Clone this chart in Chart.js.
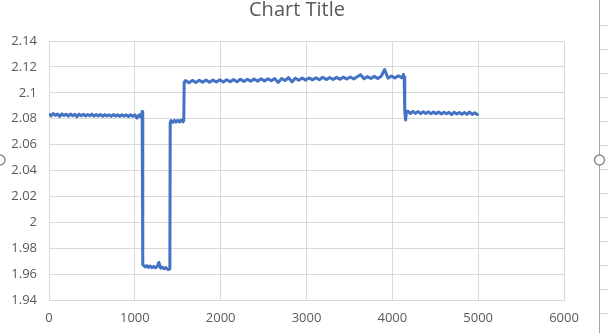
<!DOCTYPE html>
<html>
<head>
<meta charset="utf-8">
<title>Chart Title</title>
<script src="https://cdn.jsdelivr.net/npm/chart.js@4.4.1/dist/chart.umd.min.js"></script>
<style>
  html, body { margin: 0; padding: 0; background: #ffffff; }
  #wrap { position: relative; width: 608px; height: 333px; }
</style>
</head>
<body>
<div id="wrap"><canvas id="chart" width="608" height="333"></canvas></div>
<script>
// Readings, segment by segment (x = sample, y = value)
const firstLevelX = [0, 25, 50, 75, 100, 125, 150, 175, 200, 225, 250, 275, 300, 325, 350, 375, 400, 425, 450, 475,
    500, 525, 550, 575, 600, 625, 650, 675, 700, 725, 750, 775, 800, 825, 850, 875, 900, 925, 950, 975,
    1000, 1025, 1050, 1075, 1085, 1090, 1095];
const firstLevelY = [2.0838, 2.0822, 2.0840, 2.0825, 2.0836, 2.0818, 2.0837, 2.0824, 2.0835, 2.0820, 2.0836, 2.0823,
    2.0834, 2.0815, 2.0835, 2.0822, 2.0834, 2.0821, 2.0833, 2.0822, 2.0835, 2.0820, 2.0832, 2.0821,
    2.0833, 2.0819, 2.0832, 2.0820, 2.0831, 2.0818, 2.0832, 2.0820, 2.0830, 2.0818, 2.0831, 2.0819,
    2.0830, 2.0817, 2.0831, 2.0818, 2.0829, 2.0805, 2.0830, 2.0812, 2.0856, 2.0832, 1.9672];

const dipX = [1100, 1120, 1140, 1160, 1180, 1200, 1220, 1240, 1260, 1280, 1300, 1320, 1340, 1360, 1380, 1395, 1408];
const dipY = [1.9668, 1.9655, 1.9666, 1.9652, 1.9662, 1.9650, 1.9660, 1.9648, 1.9658, 1.9690, 1.9646, 1.9654,
    1.9641, 1.9650, 1.9638, 1.9636, 1.9640];

const stepX = [1412, 1420, 1440, 1460, 1480, 1500, 1520, 1540, 1560, 1570];
const stepY = [2.0770, 2.0786, 2.0772, 2.0787, 2.0774, 2.0788, 2.0775, 2.0790, 2.0776, 2.0784];

const highLevelX = [1575, 1590, 1630, 1670, 1710, 1750, 1790, 1830, 1870, 1910, 1950, 1990, 2030, 2070, 2110, 2150,
    2190, 2230, 2270, 2310, 2350, 2390, 2430, 2470, 2510, 2550, 2590, 2630, 2670, 2710, 2750,
    2790, 2830, 2870, 2910, 2950, 2990, 3030, 3070, 3110, 3150, 3190, 3230, 3270, 3310, 3350,
    3390, 3430, 3470, 3510, 3550, 3590, 3630, 3670, 3710, 3750, 3790, 3830, 3870, 3910, 3950,
    3990, 4030, 4070, 4110, 4130, 4138];
const highLevelY = [2.1080, 2.1095, 2.1078, 2.1096, 2.1080, 2.1097, 2.1081, 2.1098, 2.1082, 2.1099, 2.1083, 2.1100,
    2.1084, 2.1101, 2.1085, 2.1103, 2.1086, 2.1104, 2.1088, 2.1105, 2.1089, 2.1106, 2.1090, 2.1108,
    2.1092, 2.1109, 2.1093, 2.1110, 2.1080, 2.1111, 2.1095, 2.1118, 2.1084, 2.1113, 2.1097, 2.1114,
    2.1098, 2.1115, 2.1100, 2.1116, 2.1101, 2.1120, 2.1102, 2.1118, 2.1103, 2.1119, 2.1104, 2.1121,
    2.1106, 2.1122, 2.1107, 2.1124, 2.1140, 2.1109, 2.1125, 2.1110, 2.1127, 2.1111, 2.1128, 2.1180,
    2.1113, 2.1130, 2.1114, 2.1132, 2.1116, 2.1142, 2.1120];

const lastLevelX = [4145, 4155, 4165, 4180, 4210, 4240, 4270, 4300, 4330, 4360, 4390, 4420, 4450, 4480, 4510,
    4540, 4570, 4600, 4630, 4660, 4690, 4720, 4750, 4780, 4810, 4840, 4870, 4900, 4930, 4960, 4990, 5000];
const lastLevelY = [2.0850, 2.0790, 2.0858, 2.0858, 2.0840, 2.0856, 2.0841, 2.0855, 2.0839, 2.0854, 2.0840,
    2.0853, 2.0838, 2.0852, 2.0839, 2.0851, 2.0837, 2.0850, 2.0838, 2.0849, 2.0832, 2.0850, 2.0836,
    2.0848, 2.0835, 2.0847, 2.0834, 2.0852, 2.0833, 2.0846, 2.0832, 2.0840];

// Axis settings
const xMin = 0, xMax = 6000, xStep = 1000;
const yMin = 1.94, yMax = 2.14, yStep = 0.02;

const allX = firstLevelX.concat(dipX, stepX, highLevelX, lastLevelX);
const allY = firstLevelY.concat(dipY, stepY, highLevelY, lastLevelY);
const points = allX.map((x, i) => ({ x: x, y: allY[i] }));

const textColor = '#595959';
const gridColor = '#d9d9d9';

// Excel-style title and the selection frame around the chart
const frameDecor = {
    id: 'frameDecor',
    afterDraw(chart) {
        const ctx = chart.ctx;
        ctx.save();
        ctx.fillStyle = textColor;
        ctx.font = '20px "Open Sans"';
        ctx.textAlign = 'center';
        ctx.textBaseline = 'alphabetic';
        ctx.fillText('Chart Title', 297, 16);

        // sheet row lines to the right of the chart
        ctx.strokeStyle = '#d4d4d4';
        ctx.lineWidth = 1;
        for (let y = 25.5; y < 333; y += 24) {
            ctx.beginPath();
            ctx.moveTo(600, y);
            ctx.lineTo(608, y);
            ctx.stroke();
        }
        // chart frame edge
        ctx.strokeStyle = '#a6a6a6';
        ctx.beginPath();
        ctx.moveTo(599.5, 0);
        ctx.lineTo(599.5, 333);
        ctx.stroke();
        // resize handles
        ctx.lineWidth = 1.5;
        [[599.5, 160], [0, 160]].forEach(([cx, cy]) => {
            ctx.beginPath();
            ctx.arc(cx, cy, 5, 0, Math.PI * 2);
            ctx.fillStyle = '#ffffff';
            ctx.fill();
            ctx.strokeStyle = '#8c8c8c';
            ctx.stroke();
        });
        ctx.restore();
    }
};

const ctx = document.getElementById('chart').getContext('2d');
new Chart(ctx, {
    type: 'line',
    data: {
        datasets: [{
            data: points,
            borderColor: '#4472C4',
            borderWidth: 3,
            borderJoinStyle: 'round',
            pointRadius: 0,
            tension: 0,
            fill: false
        }]
    },
    options: {
        responsive: false,
        animation: false,
        layout: { padding: { top: 41, right: 44, left: 0, bottom: 0 } },
        plugins: {
            legend: { display: false },
            title: { display: false },
            tooltip: { enabled: false }
        },
        scales: {
            x: {
                type: 'linear',
                min: xMin,
                max: xMax,
                ticks: {
                    stepSize: xStep,
                    color: textColor,
                    font: { family: 'Open Sans', size: 13 },
                    padding: 10,
                    maxRotation: 0,
                    callback: v => String(v)
                },
                grid: { color: gridColor, drawTicks: false },
                border: { display: true, color: gridColor },
                afterFit: scale => { scale.height = 33; }
            },
            y: {
                min: yMin,
                max: yMax,
                ticks: {
                    stepSize: yStep,
                    color: textColor,
                    font: { family: 'Open Sans', size: 13 },
                    padding: 12,
                    callback: v => String(Math.round(v * 100) / 100)
                },
                grid: { color: gridColor, drawTicks: false },
                border: { display: true, color: gridColor },
                afterFit: scale => { scale.width = 49; }
            }
        }
    },
    plugins: [frameDecor]
});
</script>
</body>
</html>
